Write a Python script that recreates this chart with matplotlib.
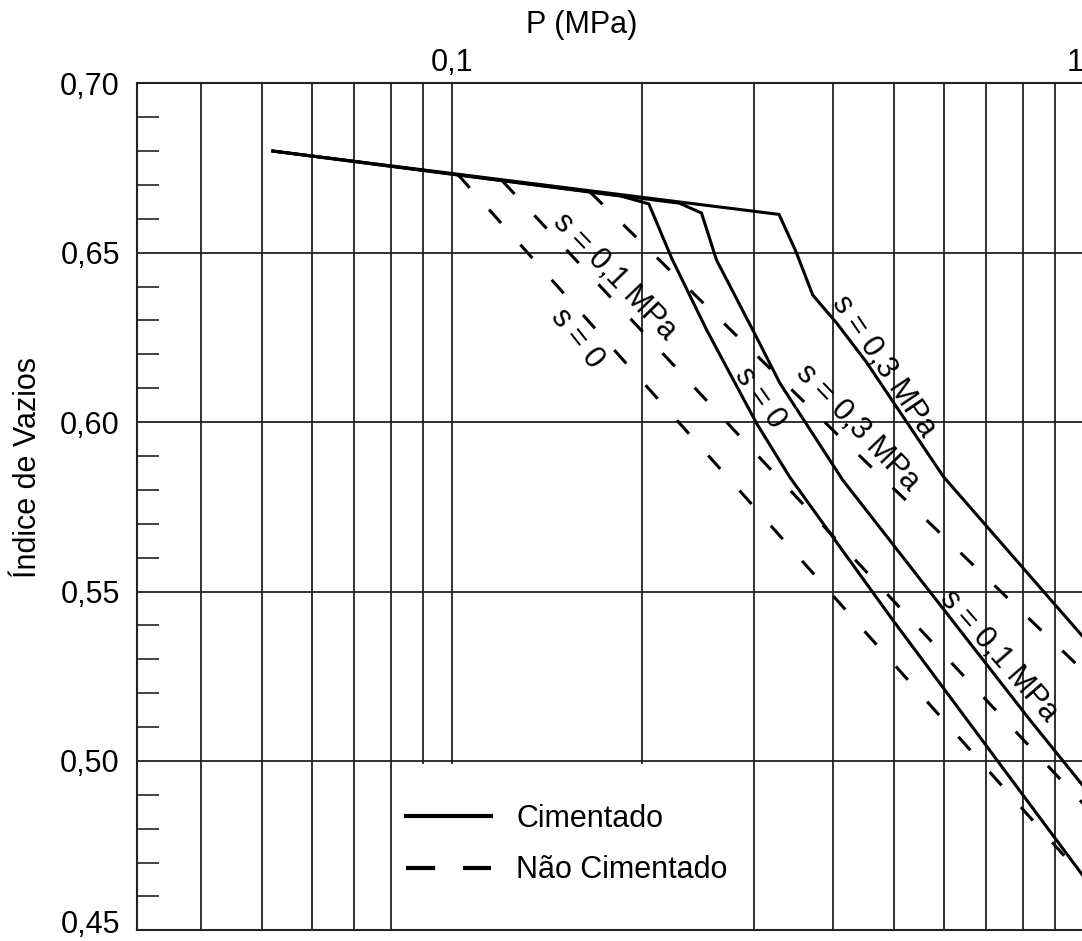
import matplotlib
matplotlib.use('Agg')
import matplotlib.pyplot as plt
from matplotlib.ticker import FixedLocator, MultipleLocator, FuncFormatter, NullFormatter
from matplotlib.lines import Line2D
from matplotlib.patches import Rectangle
from matplotlib.transforms import ScaledTranslation

plt.rcParams['font.family'] = ['Liberation Sans', 'DejaVu Sans']

# ---------------- data ----------------
# Cimentado (solid)
p_cim_s0 = [0.052, 0.185, 0.2047, 0.2224, 0.2527, 0.303, 0.342, 0.411, 0.498, 1.0]
e_cim_s0 = [0.680, 0.6667, 0.6644, 0.6484, 0.6272, 0.5997, 0.5838, 0.5631, 0.5416, 0.4657]
p_cim_s01 = [0.052, 0.229, 0.248, 0.262, 0.303, 0.330, 0.415, 0.821, 1.0]
e_cim_s01 = [0.680, 0.6646, 0.6617, 0.6478, 0.6251, 0.6115, 0.5829, 0.5121, 0.4923]
p_cim_s03 = [0.052, 0.329, 0.350, 0.372, 0.406, 0.452, 0.599, 1.0]
e_cim_s03 = [0.680, 0.6613, 0.6503, 0.6375, 0.6292, 0.6178, 0.5839, 0.5363]
# Nao cimentado (dashed)
p_nc_s0 = [0.102, 0.302, 1.0]
e_nc_s0 = [0.6731, 0.5745, 0.4654]
p_nc_s01 = [0.120, 0.308, 1.0]
e_nc_s01 = [0.6712, 0.5891, 0.4871]
p_nc_s03 = [0.165, 0.4026, 1.0]
e_nc_s03 = [0.6680, 0.5972, 0.5264]

y_ticks = [0.45, 0.50, 0.55, 0.60, 0.65, 0.70]
x_major = [0.1, 1.0]
x_major_labels = ['0,1', '1']
x_minor = [0.04, 0.05, 0.06, 0.07, 0.08, 0.09, 0.2, 0.3, 0.4, 0.5, 0.6, 0.7, 0.8, 0.9]

legend_labels = ['Cimentado', 'Não Cimentado']

# curve labels: text, P, e, rotation
curve_labels = [
    ('s = 0', 0.1578, 0.6248, -52),
    ('s = 0,1 MPa', 0.1806, 0.6428, -46),
    ('s = 0', 0.3066, 0.6071, -55),
    ('s = 0,3 MPa', 0.4385, 0.5983, -46),
    ('s = 0,3 MPa', 0.4818, 0.6164, -56),
    ('s = 0,1 MPa', 0.7338, 0.5310, -49),
]

# ---------------- figure ----------------
W, H = 1082, 941
fig = plt.figure(figsize=(W / 100, H / 100), dpi=100)
left_px, right_px, top_px, bot_px = 136.5, 1084, 83.3, 930.3
ax = fig.add_axes([left_px / W, 1 - bot_px / H, (right_px - left_px) / W, (bot_px - top_px) / H])

ax.set_xscale('log')
ax.set_xlim(10 ** -1.5, 1.0)
ax.set_ylim(0.45, 0.70)

FS = 22
solid_kw = dict(color='black', lw=2.2, solid_joinstyle='miter', zorder=3)
dash_kw = dict(color='black', lw=2.2, linestyle=(0, (5.9, 9.5)), dash_capstyle='butt', zorder=3)

ax.plot(p_cim_s0, e_cim_s0, **solid_kw)
ax.plot(p_cim_s01, e_cim_s01, **solid_kw)
ax.plot(p_cim_s03, e_cim_s03, **solid_kw)
ax.plot(p_nc_s0, e_nc_s0, **dash_kw)
ax.plot(p_nc_s01, e_nc_s01, **dash_kw)
ax.plot(p_nc_s03, e_nc_s03, **dash_kw)

for txt, px, py, rot in curve_labels:
    ax.text(px, py, txt, fontsize=FS, rotation=rot, rotation_mode='anchor',
            ha='center', va='center', zorder=4)

# axes / ticks
ax.xaxis.set_major_locator(FixedLocator(x_major))
ax.xaxis.set_minor_locator(FixedLocator(x_minor))
ax.xaxis.set_minor_formatter(NullFormatter())
ax.set_xticklabels(x_major_labels)
ax.xaxis.tick_top()
ax.tick_params(axis='x', which='both', length=0, pad=3.5, labelsize=FS)
for lbl in ax.get_xticklabels():
    if lbl.get_text() == '1':
        lbl.set_ha('right')

ax.yaxis.set_major_locator(FixedLocator(y_ticks))
ax.yaxis.set_minor_locator(MultipleLocator(0.01))
ax.yaxis.set_major_formatter(FuncFormatter(lambda v, p: f'{v:.2f}'.replace('.', ',')))
ax.tick_params(axis='y', which='major', length=0, pad=12, labelsize=FS)
ax.tick_params(axis='y', which='minor', direction='in', length=16, width=1.2, color='#222222')

ax.set_axisbelow(True)
ax.grid(True, axis='x', which='both', color='#222222', lw=1.3)
ax.grid(True, axis='y', which='major', color='#222222', lw=1.3)

for s in ['top', 'left', 'bottom']:
    ax.spines[s].set_linewidth(1.5)
    ax.spines[s].set_color('#222222')
ax.spines['right'].set_visible(False)

# white legend background
ax.add_patch(Rectangle((0.272, 0.0), 0.378, 0.196, transform=ax.transAxes,
                       facecolor='white', edgecolor='none', zorder=1))

h1 = Line2D([], [], color='black', lw=3)
h2 = Line2D([], [], color='black', lw=3, linestyle=(0, (7, 6.7)), dash_capstyle='butt')
ax.legend([h1, h2], legend_labels, loc='center left', bbox_to_anchor=(0.2845, 0.101),
          frameon=False, fontsize=FS, handlelength=2.78, handletextpad=0.82,
          labelspacing=0.70, borderpad=0, borderaxespad=0)

fig.text(28 / W, 1 - 467 / H, 'Índice de Vazios', rotation=90, ha='center', va='center', fontsize=FS)
fig.text(582 / W, 1 - 25 / H, 'P (MPa)', ha='center', va='center', fontsize=FS)

fig.canvas.draw()
for tick in ax.yaxis.get_major_ticks():
    if abs(tick.get_loc() - 0.45) < 1e-9:
        tick.label1.set_transform(tick.label1.get_transform() +
                                  ScaledTranslation(0, 6.5 / 72, fig.dpi_scale_trans))

fig.savefig('out.png', dpi=100)
